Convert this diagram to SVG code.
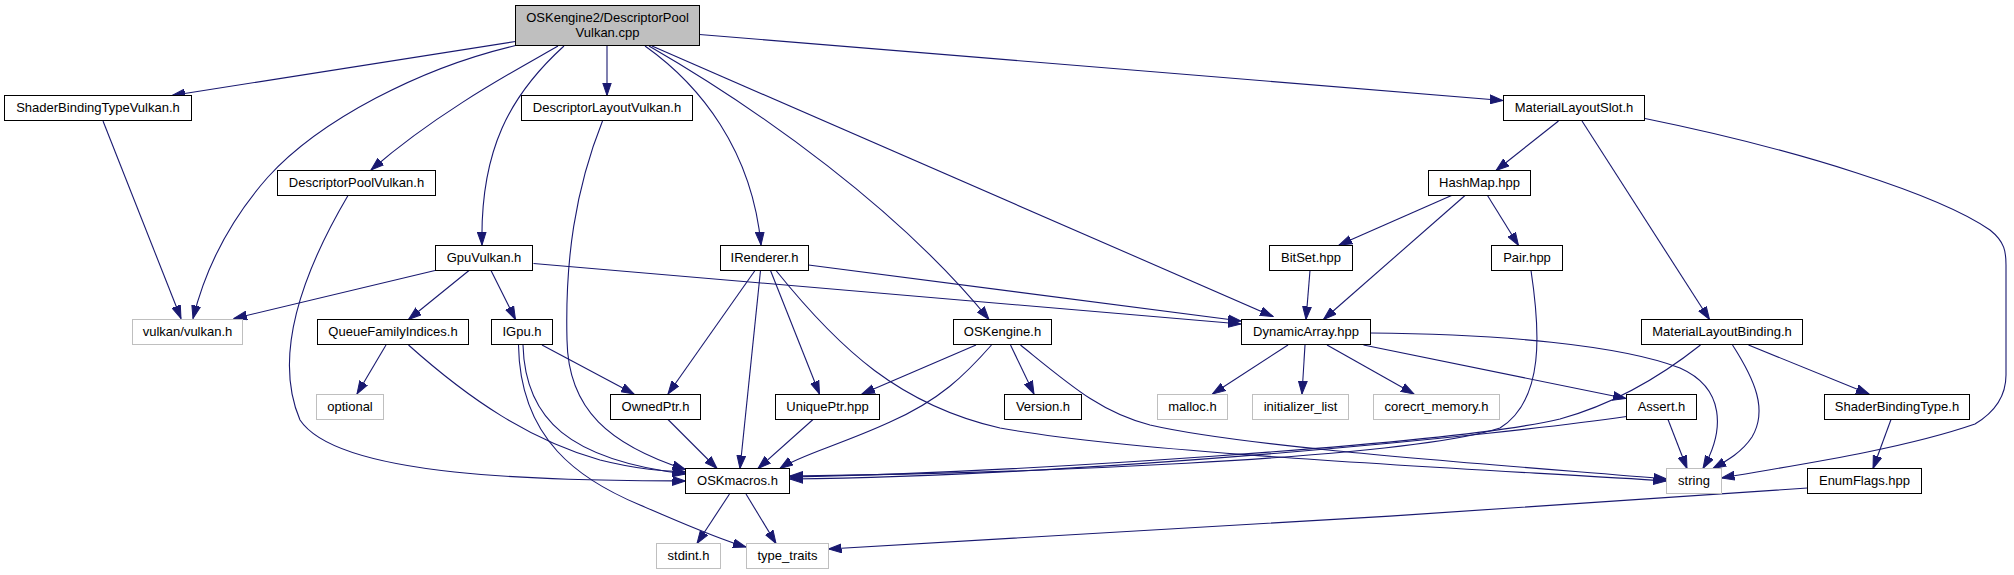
<svg xmlns="http://www.w3.org/2000/svg" width="2014" height="575" viewBox="0 0 2014 575">
<style>
.n rect{fill:#fff;stroke:#000;stroke-width:1}
.n.root rect{fill:#bfbfbf}
.n.ext rect{stroke:#bfbfbf}
.n text{font-family:"Liberation Sans",Arial,sans-serif;font-size:13px;fill:#000;text-anchor:middle}
.e path{fill:none;stroke:#191970;stroke-width:1.1;marker-end:url(#ah)}
</style>
<defs>
<marker id="ah" markerUnits="userSpaceOnUse" markerWidth="14" markerHeight="10" viewBox="0 0 14 10" refX="13" refY="5" orient="auto">
<path d="M0,0.6 L13,5 L0,9.4 z" fill="#191970" stroke="#191970" stroke-width="1"/>
</marker>
</defs>
<rect width="2014" height="575" fill="#fff"/>
<g id="edges" class="e">
<path d="M515.5,41.5 L172,95.5"/>
<path d="M515.5,45.5 C420,68 320,120 268,177 C230,220 205,270 193,318.5"/>
<path d="M558,46 C520,68 440,110 371,170"/>
<path d="M564,46 C510,95 480,150 482,245"/>
<path d="M607,45.5 L607,95.5"/>
<path d="M645,46 C700,85 752,150 761,245"/>
<path d="M649,46 C760,110 900,210 989,319.5"/>
<path d="M652,46 L1273,316.5"/>
<path d="M699.5,34.5 L1503,100.5"/>
<path d="M103,121 L181,318.5"/>
<path d="M348,195.5 C310,260 270,350 300,420 C340,480 560,480 685.5,481"/>
<path d="M602.5,121 C575,190 565,260 567,340 C568,410 610,445 685.5,469.5"/>
<path d="M435,270.5 L234,318.5"/>
<path d="M469,270.5 L408.5,319.5"/>
<path d="M491,270.5 L515.5,319.5"/>
<path d="M533.5,263.5 L1241,324"/>
<path d="M386,345 L357,394"/>
<path d="M408.5,345 C470,400 530,440 600,460 C640,470 665,471 685.5,472"/>
<path d="M542,345 L634,394"/>
<path d="M523,345 C525,420 570,460 685.5,474"/>
<path d="M518.5,345 C520,440 580,480 640,505 C680,522 715,538 746,547"/>
<path d="M755,270.5 L668,394"/>
<path d="M760.5,270.5 L740,468.5"/>
<path d="M770.5,270.5 L819.5,394"/>
<path d="M776,270.5 C840,350 900,405 1000,428 C1150,455 1500,470 1666.5,481"/>
<path d="M808.5,265 L1241,321"/>
<path d="M976,345 L862,394"/>
<path d="M991.5,345 C965,375 940,400 890,422 C840,445 800,455 780,468.5"/>
<path d="M1010.5,345 L1034,394"/>
<path d="M1020.5,345 C1070,385 1100,412 1150,425 C1250,448 1500,465 1666.5,479"/>
<path d="M668,419.5 L717,468.5"/>
<path d="M813,419.5 L758,468.5"/>
<path d="M729.5,494 L697,543.5"/>
<path d="M746,494 L776,543.5"/>
<path d="M1288,345 L1212.5,394"/>
<path d="M1305,345 L1302,394"/>
<path d="M1327,345 L1414,394"/>
<path d="M1363.5,345 L1626,398.5"/>
<path d="M1370.5,333 C1500,334 1620,345 1680,368 C1725,388 1725,430 1703,468.5"/>
<path d="M1626.5,416.5 C1500,435 1100,475 790,479"/>
<path d="M1668,419.5 L1687,468.5"/>
<path d="M1700.5,345 C1650,385 1600,408 1560,419 C1450,445 1000,473 790,477"/>
<path d="M1732.5,345 C1755,380 1768,410 1752,437 C1742,452 1728,460 1713,468.5"/>
<path d="M1748.5,345 L1869,394"/>
<path d="M1891,419.5 L1873,468.5"/>
<path d="M1807.5,488 C1500,510 1100,535 828.5,549"/>
<path d="M1645,118.5 C1800,150 1940,195 1990,230 C2005,242 2006,252 2006,265 L2006,375 C2006,395 1995,412 1975,424 C1900,450 1790,466 1721.5,478"/>
<path d="M1558.5,121 L1496,170.5"/>
<path d="M1582,121 L1709.5,319.5"/>
<path d="M1451.5,195.5 L1339,245"/>
<path d="M1465,195.5 L1323.5,319.5"/>
<path d="M1487.5,195.5 L1518.5,245.5"/>
<path d="M1310,270.5 L1306,319.5"/>
<path d="M1531,270.5 C1540,330 1545,400 1500,428 C1400,460 1000,474 790,476"/>
</g>
<g id="root" class="n root"><rect x="515.5" y="5.5" width="184" height="40"/><text x="607.5" y="21.5">OSKengine2/DescriptorPool</text><text x="607.5" y="36.5">Vulkan.cpp</text></g>
<g id="ShaderBindingTypeVulkan" class="n"><rect x="4.5" y="95.5" width="187" height="25"/><text x="98" y="112">ShaderBindingTypeVulkan.h</text></g>
<g id="DescriptorLayoutVulkan" class="n"><rect x="521.5" y="95.5" width="171" height="25"/><text x="607" y="112">DescriptorLayoutVulkan.h</text></g>
<g id="MaterialLayoutSlot" class="n"><rect x="1503.5" y="95.5" width="141" height="25"/><text x="1574" y="112">MaterialLayoutSlot.h</text></g>
<g id="DescriptorPoolVulkan" class="n"><rect x="277.5" y="170.5" width="158" height="25"/><text x="356.5" y="187">DescriptorPoolVulkan.h</text></g>
<g id="HashMap" class="n"><rect x="1428.5" y="170.5" width="102" height="25"/><text x="1479.5" y="187">HashMap.hpp</text></g>
<g id="GpuVulkan" class="n"><rect x="435.5" y="245.5" width="97" height="25"/><text x="484" y="262">GpuVulkan.h</text></g>
<g id="IRenderer" class="n"><rect x="720.5" y="245.5" width="88" height="25"/><text x="764.5" y="262">IRenderer.h</text></g>
<g id="BitSet" class="n"><rect x="1269.5" y="245.5" width="83" height="25"/><text x="1311" y="262">BitSet.hpp</text></g>
<g id="Pair" class="n"><rect x="1491.5" y="245.5" width="71" height="25"/><text x="1527" y="262">Pair.hpp</text></g>
<g id="vulkan" class="n ext"><rect x="132.5" y="319.5" width="110" height="25"/><text x="187.5" y="336">vulkan/vulkan.h</text></g>
<g id="QueueFamilyIndices" class="n"><rect x="317.5" y="319.5" width="151" height="25"/><text x="393" y="336">QueueFamilyIndices.h</text></g>
<g id="IGpu" class="n"><rect x="491.5" y="319.5" width="61" height="25"/><text x="522" y="336">IGpu.h</text></g>
<g id="OSKengine" class="n"><rect x="953.5" y="319.5" width="98" height="25"/><text x="1002.5" y="336">OSKengine.h</text></g>
<g id="DynamicArray" class="n"><rect x="1241.5" y="319.5" width="129" height="25"/><text x="1306" y="336">DynamicArray.hpp</text></g>
<g id="MaterialLayoutBinding" class="n"><rect x="1641.5" y="319.5" width="161" height="25"/><text x="1722" y="336">MaterialLayoutBinding.h</text></g>
<g id="optional" class="n ext"><rect x="316.5" y="394.5" width="67" height="25"/><text x="350" y="411">optional</text></g>
<g id="OwnedPtr" class="n"><rect x="610.5" y="394.5" width="90" height="25"/><text x="655.5" y="411">OwnedPtr.h</text></g>
<g id="UniquePtr" class="n"><rect x="775.5" y="394.5" width="104" height="25"/><text x="827.5" y="411">UniquePtr.hpp</text></g>
<g id="Version" class="n"><rect x="1004.5" y="394.5" width="77" height="25"/><text x="1043" y="411">Version.h</text></g>
<g id="malloc" class="n ext"><rect x="1157.5" y="394.5" width="70" height="25"/><text x="1192.5" y="411">malloc.h</text></g>
<g id="initializer_list" class="n ext"><rect x="1252.5" y="394.5" width="96" height="25"/><text x="1300.5" y="411">initializer_list</text></g>
<g id="corecrt_memory" class="n ext"><rect x="1373.5" y="394.5" width="126" height="25"/><text x="1436.5" y="411">corecrt_memory.h</text></g>
<g id="Assert" class="n"><rect x="1626.5" y="394.5" width="70" height="25"/><text x="1661.5" y="411">Assert.h</text></g>
<g id="ShaderBindingType" class="n"><rect x="1824.5" y="394.5" width="145" height="25"/><text x="1897" y="411">ShaderBindingType.h</text></g>
<g id="OSKmacros" class="n"><rect x="685.5" y="468.5" width="104" height="25"/><text x="737.5" y="485">OSKmacros.h</text></g>
<g id="string" class="n ext"><rect x="1666.5" y="468.5" width="55" height="25"/><text x="1694" y="485">string</text></g>
<g id="EnumFlags" class="n"><rect x="1807.5" y="468.5" width="114" height="25"/><text x="1864.5" y="485">EnumFlags.hpp</text></g>
<g id="stdint" class="n ext"><rect x="656.5" y="543.5" width="64" height="25"/><text x="688.5" y="560">stdint.h</text></g>
<g id="type_traits" class="n ext"><rect x="746.5" y="543.5" width="82" height="25"/><text x="787.5" y="560">type_traits</text></g>
</svg>
